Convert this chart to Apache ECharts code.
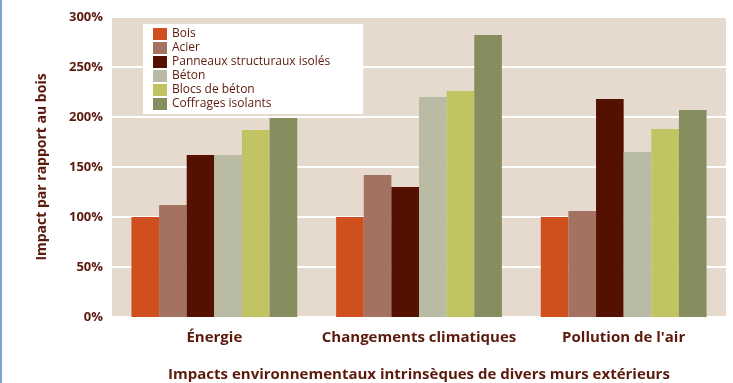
<!DOCTYPE html>
<html><head><meta charset="utf-8">
<script src="https://cdn.jsdelivr.net/npm/echarts@6/dist/echarts.min.js"></script>
<style>html,body{margin:0;padding:0;background:#fff}#c{width:733px;height:383px;box-sizing:border-box;border-left:2px solid #7ba7cf}</style>
</head><body><div id="c"></div>
<script>
const categories = ['Énergie', 'Changements climatiques', "Pollution de l'air"];
const seriesNames = ['Bois', 'Acier', 'Panneaux structuraux isolés', 'Béton', 'Blocs de béton', 'Coffrages isolants'];
const bois = [100, 100, 100];
const acier = [112, 142, 106];
const panneaux = [162, 130, 218];
const beton = [162, 220, 165];
const blocs = [187, 226, 188];
const coffrages = [199, 282, 207];
const colors = ['#d04f1f', '#a37261', '#541000', '#babba4', '#c2c363', '#868e60'];
const values = [bois, acier, panneaux, beton, blocs, coffrages];
const txt = '#5b1a0c';
const ff = 'Open Sans';
const chart = echarts.init(document.getElementById('c'));
chart.setOption({
  animation: false,
  textStyle: {fontFamily: ff},
  grid: {left: 110, right: 7, top: 17, bottom: 66, show: true, backgroundColor: '#e6dace', borderWidth: 0, containLabel: false, outerBoundsMode: 'none'},
  legend: {
    orient: 'vertical', left: 141, top: 24, backgroundColor: '#fff',
    padding: [4, 33, 4, 10], itemGap: 2, itemWidth: 14, itemHeight: 12,
    textStyle: {color: txt, fontSize: 12, fontFamily: ff, padding: [0,0,0,0]},
    icon: 'rect',
    data: seriesNames
  },
  xAxis: {
    type: 'category', data: categories,
    axisLine: {show: false}, axisTick: {show: false},
    axisLabel: {color: txt, fontWeight: 'bold', fontSize: 15, margin: 13, interval: 0, fontFamily: ff},
    name: 'Impacts environnementaux intrinsèques de divers murs extérieurs',
    nameLocation: 'middle', nameGap: 50,
    nameTextStyle: {color: txt, fontWeight: 'bold', fontSize: 15, fontFamily: ff}
  },
  yAxis: {
    type: 'value', min: 0, max: 300, interval: 50,
    axisLine: {show: false}, axisTick: {show: false},
    splitLine: {lineStyle: {color: '#ffffff', width: 2}},
    axisLabel: {color: txt, fontWeight: 'bold', fontSize: 13, margin: 9, formatter: '{value}%', fontFamily: ff},
    name: 'Impact par rapport au bois', nameLocation: 'middle', nameGap: 63, nameRotate: 90,
    nameTextStyle: {color: txt, fontWeight: 'bold', fontSize: 14, fontFamily: ff}
  },
  series: seriesNames.map((n, i) => ({
    name: n, type: 'bar', data: values[i], barGap: '0%', barCategoryGap: '19%',
    itemStyle: {color: colors[i]}
  }))
});
</script></body></html>
